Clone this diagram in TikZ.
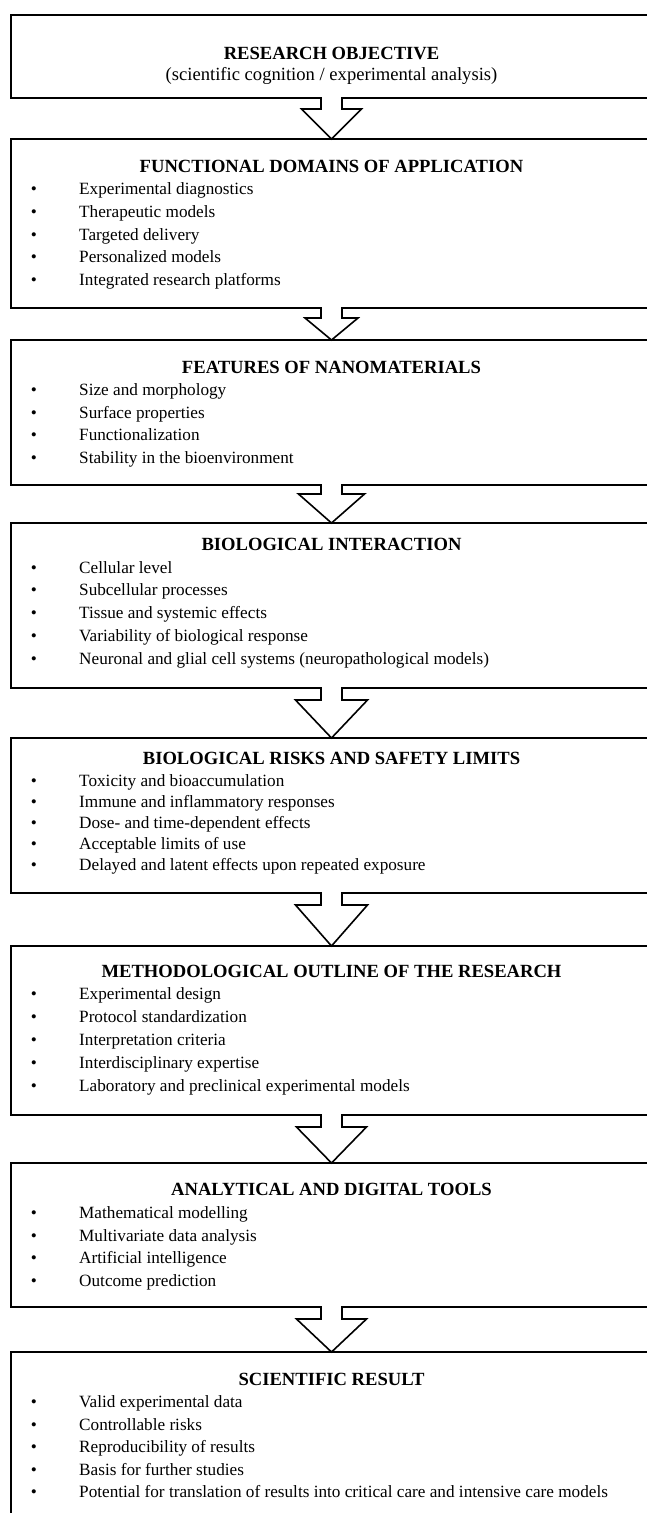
\documentclass[tikz,border=0pt]{standalone}
\usepackage{fontspec}
\setmainfont{Liberation Serif}
\usetikzlibrary{calc}
\tikzset{
  box/.style={draw, line width=1.8pt, rectangle, inner sep=0pt, outer sep=0pt, minimum width=641pt},
  headtxt/.style={font=\fontsize{18.6}{20}\selectfont\bfseries, anchor=mid, inner sep=0pt},
  subtxt/.style={font=\fontsize{18.6}{20}\selectfont, anchor=mid, inner sep=0pt},
  itemtxt/.style={font=\fontsize{17.2}{19}\selectfont, anchor=mid west, inner sep=0pt},
  bul/.style={font=\fontsize{17.2}{19}\selectfont, anchor=mid, inner sep=0pt},
  blockarrow/.style={draw, fill=white, line width=1.6pt, line join=miter}
}
\newcommand\itemrow[3]{%
  \node[bul] (#1b) at (34,#2) {•};
  \node[itemtxt] (#1) at (79,#2) {#3};}
% #1 from box, #2 to box, #3 stem length, #4 head half-width
\newcommand\blockarr[4]{%
  \draw[blockarrow] ($(#1.south)+(-10.5,-0.9)$) -- ($(#1.south)+(-10.5,#3)$)
    -- ($(#1.south)+(-#4,#3)$) -- (#2.north) -- ($(#1.south)+(#4,#3)$)
    -- ($(#1.south)+(10.5,#3)$) -- ($(#1.south)+(10.5,-0.9)$);}
\begin{document}
\begin{tikzpicture}[x=1pt, y=-1pt]
\fill[white] (0,0) rectangle (647,1513);
\useasboundingbox (0,0) rectangle (647,1513);

% Box 1
\node[box, minimum height=83pt] (b1) at (331.5,56.5) {};
\node[headtxt] (h1) at (331.5,57) {RESEARCH OBJECTIVE};
\node[subtxt] (s1) at (331.5,78) {(scientific cognition / experimental analysis)};

% Box 2
\node[box, minimum height=169pt] (b2) at (331.5,223.5) {};
\node[headtxt] (h2) at (331.5,170) {FUNCTIONAL DOMAINS OF APPLICATION};
\itemrow{i21}{192}{Experimental diagnostics}
\itemrow{i22}{215}{Therapeutic models}
\itemrow{i23}{238}{Targeted delivery}
\itemrow{i24}{260}{Personalized models}
\itemrow{i25}{283}{Integrated research platforms}

% Box 3
\node[box, minimum height=145pt] (b3) at (331.5,412.5) {};
\node[headtxt] (h3) at (331.5,371) {FEATURES OF NANOMATERIALS};
\itemrow{i31}{393}{Size and morphology}
\itemrow{i32}{416}{Surface properties}
\itemrow{i33}{438}{Functionalization}
\itemrow{i34}{461}{Stability in the bioenvironment}

% Box 4
\node[box, minimum height=165pt] (b4) at (331.5,605.5) {};
\node[headtxt] (h4) at (331.5,548) {BIOLOGICAL INTERACTION};
\itemrow{i41}{571}{Cellular level}
\itemrow{i42}{593}{Subcellular processes}
\itemrow{i43}{616}{Tissue and systemic effects}
\itemrow{i44}{639}{Variability of biological response}
\itemrow{i45}{662}{Neuronal and glial cell systems (neuropathological models)}

% Box 5
\node[box, minimum height=155pt] (b5) at (331.5,815.5) {};
\node[headtxt] (h5) at (331.5,762) {BIOLOGICAL RISKS AND SAFETY LIMITS};
\itemrow{i51}{784}{Toxicity and bioaccumulation}
\itemrow{i52}{805}{Immune and inflammatory responses}
\itemrow{i53}{826}{Dose- and time-dependent effects}
\itemrow{i54}{847}{Acceptable limits of use}
\itemrow{i55}{868}{Delayed and latent effects upon repeated exposure}

% Box 6
\node[box, minimum height=169pt] (b6) at (331.5,1030.5) {};
\node[headtxt] (h6) at (331.5,975) {METHODOLOGICAL OUTLINE OF THE RESEARCH};
\itemrow{i61}{997}{Experimental design}
\itemrow{i62}{1020}{Protocol standardization}
\itemrow{i63}{1043}{Interpretation criteria}
\itemrow{i64}{1066}{Interdisciplinary expertise}
\itemrow{i65}{1089}{Laboratory and preclinical experimental models}

% Box 7
\node[box, minimum height=144pt] (b7) at (331.5,1235) {};
\node[headtxt] (h7) at (331.5,1193) {ANALYTICAL AND DIGITAL TOOLS};
\itemrow{i71}{1216}{Mathematical modelling}
\itemrow{i72}{1239}{Multivariate data analysis}
\itemrow{i73}{1261}{Artificial intelligence}
\itemrow{i74}{1284}{Outcome prediction}

% Box 8
\node[box, minimum height=178pt] (b8) at (331.5,1441) {};
\node[headtxt] (h8) at (331.5,1383) {SCIENTIFIC RESULT};
\itemrow{i81}{1405}{Valid experimental data}
\itemrow{i82}{1428}{Controllable risks}
\itemrow{i83}{1450}{Reproducibility of results}
\itemrow{i84}{1473}{Basis for further studies}
\itemrow{i85}{1495}{Potential for translation of results into critical care and intensive care models}

% Block arrows
\blockarr{b1}{b2}{11}{30}
\blockarr{b2}{b3}{10}{26.5}
\blockarr{b3}{b4}{9}{33}
\blockarr{b4}{b5}{12}{36}
\blockarr{b5}{b6}{12}{36}
\blockarr{b6}{b7}{12}{35}
\blockarr{b7}{b8}{12}{35}
\end{tikzpicture}
\end{document}
